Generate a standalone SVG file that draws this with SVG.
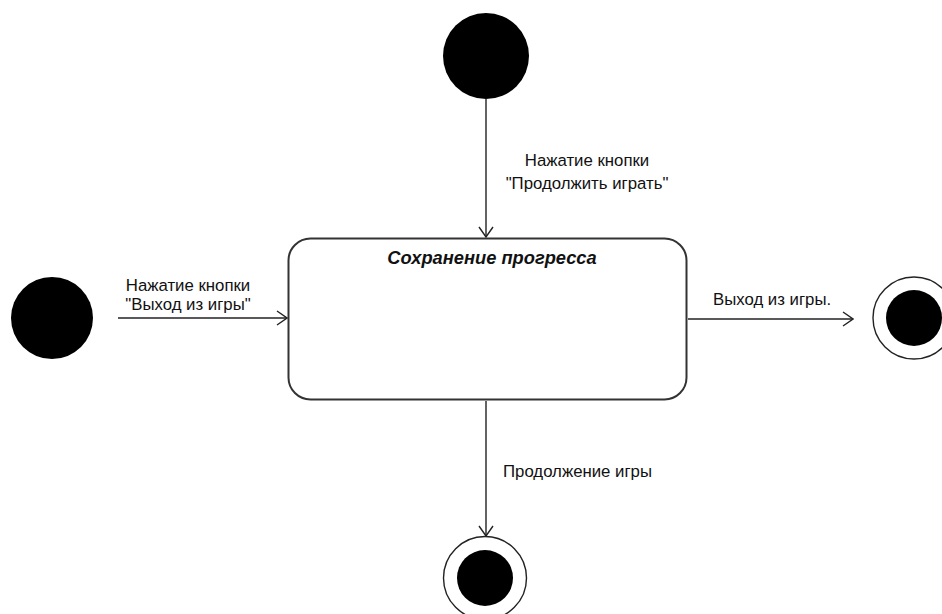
<svg xmlns="http://www.w3.org/2000/svg" width="942" height="614" viewBox="0 0 942 614">
<defs>
<style>
.lbl{font-family:"Liberation Sans",Arial,sans-serif;font-size:16.8px;fill:#111;}
.title{font-family:"Liberation Sans",Arial,sans-serif;font-size:18.3px;font-weight:bold;font-style:italic;fill:#111;}
.edge{stroke:#222;stroke-width:1.4;fill:none;}
.start{fill:#000;}
.ring{fill:#fff;stroke:#222;stroke-width:1.4;}
</style>
<marker id="arr" viewBox="0 0 12 16" refX="11" refY="8" markerWidth="12" markerHeight="16" markerUnits="userSpaceOnUse" orient="auto">
<path d="M1,1 L11,8 L1,15" fill="none" stroke="#222" stroke-width="1.4"/>
</marker>
</defs>
<rect width="942" height="614" fill="#fff"/>
<g id="connectors">
<line class="edge" x1="486" y1="99" x2="486" y2="237" marker-end="url(#arr)"/>
<line class="edge" x1="118" y1="318" x2="287" y2="318" marker-end="url(#arr)"/>
<line class="edge" x1="688" y1="319" x2="853" y2="319" marker-end="url(#arr)"/>
<line class="edge" x1="486" y1="401" x2="486" y2="536" marker-end="url(#arr)"/>
<text class="lbl" x="587" y="166" text-anchor="middle">Нажатие кнопки</text>
<text class="lbl" x="587" y="189" text-anchor="middle">"Продолжить играть"</text>
<text class="lbl" x="188" y="291" text-anchor="middle">Нажатие кнопки</text>
<text class="lbl" x="188" y="310" text-anchor="middle">"Выход из игры"</text>
<text class="lbl" x="713" y="305">Выход из игры.</text>
<text class="lbl" x="503" y="477">Продолжение игры</text>
</g>
<g id="start-top"><circle class="start" cx="486" cy="56" r="43"/></g>
<g id="start-left"><circle class="start" cx="52" cy="318" r="41"/></g>
<g id="state-save">
<rect x="288.5" y="238.5" width="398" height="161" rx="22" ry="22" fill="#fff" stroke="#333" stroke-width="2"/>
<text class="title" x="492" y="264" text-anchor="middle">Сохранение прогресса</text>
</g>
<g id="final-right"><circle class="ring" cx="914" cy="318" r="41"/><circle class="start" cx="914" cy="318" r="28"/></g>
<g id="final-bottom"><circle class="ring" cx="485" cy="578" r="41.5"/><circle class="start" cx="485" cy="578" r="28"/></g>
</svg>
